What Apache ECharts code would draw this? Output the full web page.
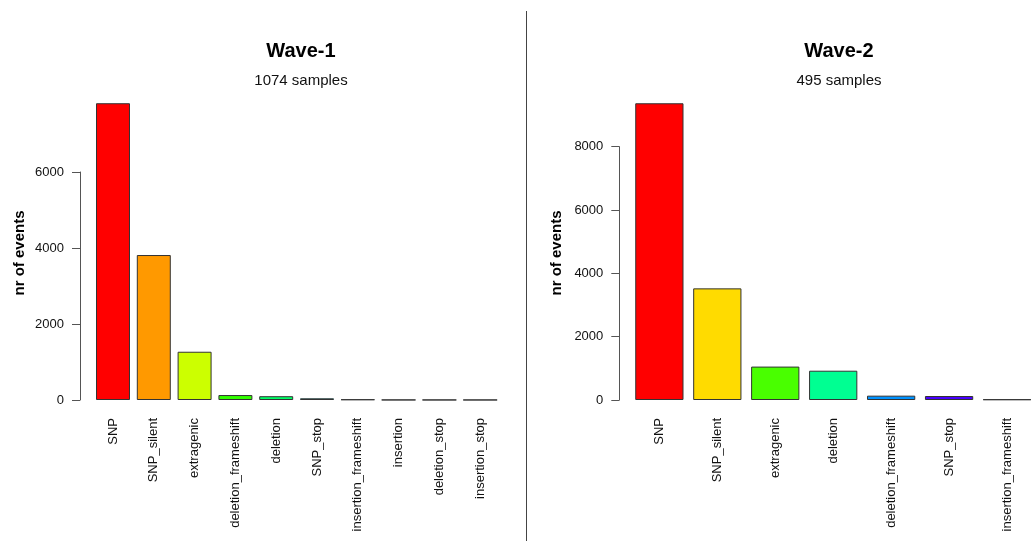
<!DOCTYPE html>
<html lang="en">
<head>
<meta charset="UTF-8">
<title>Wave-1 / Wave-2</title>
<script src="https://cdn.jsdelivr.net/npm/echarts@6/dist/echarts.min.js"></script>
</head>
<body style="margin:0">
<div id="main" style="width: 1036px;height: 541px"></div>
<script type="text/javascript">
  // Wave-1 data
  var wave1Cats = ['SNP', 'SNP_silent', 'extragenic', 'deletion_frameshift', 'deletion',
    'SNP_stop', 'insertion_frameshift', 'insertion', 'deletion_stop', 'insertion_stop'];
  var wave1Vals = [7810, 3815, 1270, 130, 100, 45, 15, 4, 3, 2];
  var wave1Ticks = [0, 2000, 4000, 6000];
  // R rainbow(10)
  var wave1Colors = ['#FF0000', '#FF9900', '#CCFF00', '#33FF00', '#00FF66',
    '#00FFFF', '#0066FF', '#3300FF', '#CC00FF', '#FF0099'];

  // Wave-2 data
  var wave2Cats = ['SNP', 'SNP_silent', 'extragenic', 'deletion', 'deletion_frameshift',
    'SNP_stop', 'insertion_frameshift'];
  var wave2Vals = [9370, 3525, 1055, 925, 137, 126, 20];
  var wave2Ticks = [0, 2000, 4000, 6000, 8000];
  // R rainbow(7)
  var wave2Colors = ['#FF0000', '#FFDB00', '#49FF00', '#00FF92', '#0092FF', '#4900FF', '#FF00DB'];

  var font = 'Liberation Sans';
  var myChart = echarts.init(document.getElementById('main'));

  function barData(vals, colors) {
    return vals.map(function (v, i) {
      return {value: v, itemStyle: {color: colors[i]}};
    });
  }

  var catAxis = function (gridIndex, cats) {
    return {
      type: 'category', gridIndex: gridIndex, data: cats,
      axisLine: {show: false}, axisTick: {show: false},
      axisLabel: {rotate: 90, margin: 18, fontFamily: font, fontSize: 13, color: '#111', interval: 0}
    };
  };
  var hiddenX = function (gridIndex) {
    return {type: 'value', gridIndex: gridIndex, show: false, min: 0, max: 1};
  };
  var tickAxis = function (gridIndex, ticks) {
    return {
      type: 'value', gridIndex: gridIndex, min: 0, max: ticks[ticks.length - 1],
      interval: ticks[1] - ticks[0],
      splitLine: {show: false},
      axisLine: {show: true, lineStyle: {color: '#555', width: 1}},
      axisTick: {show: true, length: 8, lineStyle: {color: '#555'}},
      axisLabel: {fontFamily: font, fontSize: 13, color: '#111', margin: 16,
        formatter: function (v) { return String(v); }}
    };
  };
  var dataAxis = function (gridIndex, max) {
    return {type: 'value', gridIndex: gridIndex, min: 0, max: max, show: false, splitLine: {show: false}};
  };

  var option = {
    animation: false,
    backgroundColor: '#fff',
    title: [
      {text: 'Wave-1', left: 296, top: 36, textAlign: 'center',
        textStyle: {fontFamily: font, fontSize: 20, fontWeight: 'bold', color: '#000'}},
      {text: '1074 samples', left: 296, top: 68, textAlign: 'center',
        textStyle: {fontFamily: font, fontSize: 15, fontWeight: 'normal', color: '#111'}},
      {text: 'Wave-2', left: 834, top: 36, textAlign: 'center',
        textStyle: {fontFamily: font, fontSize: 20, fontWeight: 'bold', color: '#000'}},
      {text: '495 samples', left: 834, top: 68, textAlign: 'center',
        textStyle: {fontFamily: font, fontSize: 15, fontWeight: 'normal', color: '#111'}}
    ],
    grid: [
      // data grids
      {left: 92.6, width: 408, top: 96, height: 304},
      {left: 630.4, width: 408, top: 83.3, height: 316.7},
      // axis-only grids (R style axis spans tick range only)
      {left: 80, width: 1, top: 172, height: 228},
      {left: 619.3, width: 1, top: 146.7, height: 253.3}
    ],
    xAxis: [
      catAxis(0, wave1Cats),
      catAxis(1, wave2Cats),
      hiddenX(2),
      hiddenX(3)
    ],
    yAxis: [
      dataAxis(0, 8000),
      dataAxis(1, 10000),
      tickAxis(2, wave1Ticks),
      tickAxis(3, wave2Ticks)
    ],
    graphic: [
      {type: 'line', shape: {x1: 526.5, y1: 11, x2: 526.5, y2: 541},
        style: {stroke: '#444', lineWidth: 1}},
      {type: 'text', x: 20, y: 253, rotation: Math.PI / 2,
        style: {text: 'nr of events', font: 'bold 15px "Liberation Sans"', fill: '#000',
          textAlign: 'center', textVerticalAlign: 'middle'}},
      {type: 'text', x: 557, y: 253, rotation: Math.PI / 2,
        style: {text: 'nr of events', font: 'bold 15px "Liberation Sans"', fill: '#000',
          textAlign: 'center', textVerticalAlign: 'middle'}}
    ],
    series: [
      {type: 'bar', xAxisIndex: 0, yAxisIndex: 0, barCategoryGap: '16.7%',
        itemStyle: {borderColor: '#333', borderWidth: 1},
        data: barData(wave1Vals, wave1Colors)},
      {type: 'bar', xAxisIndex: 1, yAxisIndex: 1, barCategoryGap: '16.7%',
        itemStyle: {borderColor: '#333', borderWidth: 1},
        data: barData(wave2Vals, wave2Colors)}
    ]
  };
  myChart.setOption(option);
</script>
</body>
</html>
